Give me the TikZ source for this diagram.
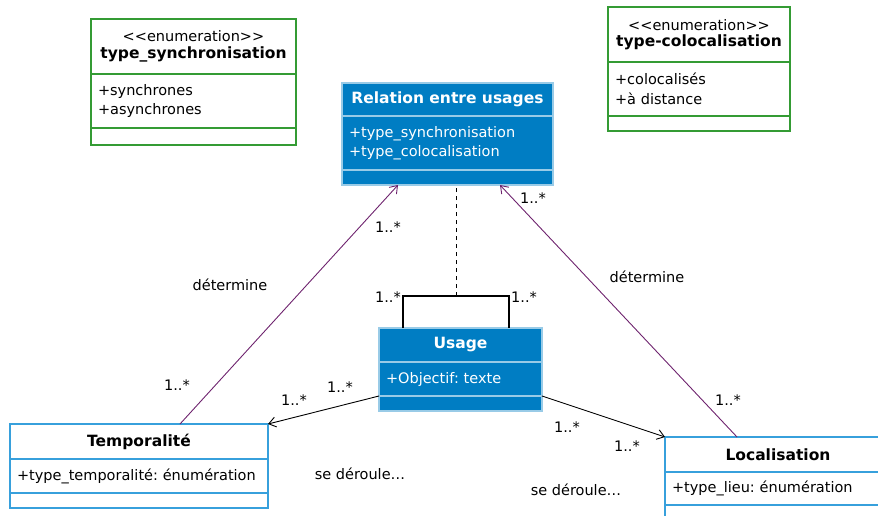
\documentclass[tikz,border=0pt]{standalone}
\usepackage{fontspec}
\setmainfont{DejaVu Sans}
\usepackage{xcolor}
\usetikzlibrary{positioning,arrows.meta}

\definecolor{umlgreen}{RGB}{52,155,52}
\definecolor{umlblue}{RGB}{0,125,195}
\definecolor{umlframe}{RGB}{55,160,220}
\definecolor{umlpurple}{RGB}{110,35,110}

\newcommand{\clsname}[1]{{\fontsize{15.5}{19}\selectfont\bfseries #1}}
\frenchspacing

\begin{document}
\begin{tikzpicture}[x=1pt, y=-1pt, >={Straight Barb[length=7pt,width=10pt]},
  every node/.style={font=\fontsize{14.5}{19.5}\selectfont},
  part/.style={rectangle, line width=1.3pt, inner sep=0pt, outer sep=0pt},
  enumpart/.style={part, draw=umlgreen, fill=white},
  bluepart/.style={part, draw=white!60!umlblue, fill=umlblue, text=white},
  whitepart/.style={part, draw=umlframe, fill=white},
  attrs/.style={align=left, inner xsep=7pt},
  assoc/.style={->, line width=0.9pt},
  mult/.style={inner sep=0pt}]

  \useasboundingbox (0,0) rectangle (878,515);
  \clip (0,0) rectangle (878,515);

  %% ─── enumerations ───────────────────────────────────────────────────────
  \node[enumpart, align=center, minimum width=205, minimum height=55,
        anchor=north west] (sync_head) at (91,19)
      {{<}{<}enumeration{>}{>}\\[-3pt]\clsname{type\_synchronisation}};
  \node[enumpart, attrs, text width=191, minimum height=54,
        below=0pt of sync_head] (sync_attr)
      {+synchrones\\+asynchrones};
  \node[enumpart, minimum width=205, minimum height=17,
        below=0pt of sync_attr] (sync_ops) {};

  \node[enumpart, align=center, minimum width=182, minimum height=55,
        anchor=north west] (coloc_head) at (608,7)
      {{<}{<}enumeration{>}{>}\\[-3pt]\clsname{type-colocalisation}};
  \node[enumpart, attrs, text width=168, minimum height=54,
        below=0pt of coloc_head] (coloc_attr)
      {+colocalisés\\+à distance};
  \node[enumpart, minimum width=182, minimum height=15,
        below=0pt of coloc_attr] (coloc_ops) {};

  %% ─── Relation entre usages ──────────────────────────────────────────────
  \node[bluepart, minimum width=211, minimum height=33,
        anchor=north west] (rel_head) at (342,83)
      {\clsname{Relation entre usages}};
  \node[bluepart, attrs, text width=197, minimum height=54,
        below=0pt of rel_head] (rel_attr)
      {+type\_synchronisation\\+type\_colocalisation};
  \node[bluepart, minimum width=211, minimum height=15,
        below=0pt of rel_attr] (rel_ops) {};

  %% ─── Usage ──────────────────────────────────────────────────────────────
  \node[bluepart, minimum width=163, minimum height=34,
        anchor=north west] (usage_head) at (379,328)
      {\clsname{Usage}};
  \node[bluepart, attrs, text width=149, minimum height=34,
        below=0pt of usage_head] (usage_attr)
      {+Objectif: texte};
  \node[bluepart, minimum width=163, minimum height=15,
        below=0pt of usage_attr] (usage_ops) {};

  %% ─── Temporalité / Localisation ─────────────────────────────────────────
  \node[whitepart, minimum width=258, minimum height=35,
        anchor=north west] (temp_head) at (10,424)
      {\clsname{Temporalité}};
  \node[whitepart, attrs, text width=244, minimum height=34,
        below=0pt of temp_head] (temp_attr)
      {+type\_temporalité: énumération};
  \node[whitepart, minimum width=258, minimum height=15,
        below=0pt of temp_attr] (temp_ops) {};

  \node[whitepart, minimum width=240, minimum height=35,
        anchor=north west] (loc_head) at (665,437)
      {\clsname{Localisation}\hspace*{14pt}};
  \node[whitepart, attrs, text width=226, minimum height=33,
        below=0pt of loc_head] (loc_attr)
      {+type\_lieu: énumération};
  \node[whitepart, minimum width=240, minimum height=15,
        below=0pt of loc_attr] (loc_ops) {};

  %% association class link
  \coordinate (br_l) at (403,296);
  \coordinate (br_r) at (509,296);
  \coordinate (br_m) at (456,296);
  \draw[line width=1.2pt] (usage_head.north -| br_l) -- (br_l) -- (br_r)
      -- (usage_head.north -| br_r);
  \draw[dash pattern=on 4pt off 4pt, line width=0.9pt] (br_m) -- (rel_ops.south -| br_m);
  \node[mult, anchor=south east] (m_brl) at (401,303) {1..*};
  \node[mult, anchor=south west] (m_brr) at (511,303) {1..*};

  %% détermine (purple)
  \coordinate (rel_in_l) at ([xshift=56pt]rel_ops.south west);
  \coordinate (rel_in_r) at ([xshift=158pt]rel_ops.south west);
  \coordinate (temp_top) at ([xshift=170pt]temp_head.north west);
  \coordinate (loc_top) at ([xshift=72pt]loc_head.north west);
  \draw[assoc, umlpurple] (temp_top) -- (rel_in_l);
  \draw[assoc, umlpurple] (loc_top) -- (rel_in_r);
  \node (det_l) at (230,285) {détermine};
  \node (det_r) at (647,277) {détermine};
  \node[mult] (m_rl) at (388,227) {1..*};
  \node[mult] (m_tl) at (177,385) {1..*};
  \node[mult] (m_rr) at (533,198) {1..*};
  \node[mult] (m_lr) at (728,400) {1..*};

  %% se déroule (black)
  \draw[assoc] (usage_attr.south west) -- (temp_head.north east);
  \draw[assoc] (usage_attr.south east) -- (loc_head.north west);
  \node[mult] (m_ul) at (340,387) {1..*};
  \node[mult] (m_tu) at (294,400) {1..*};
  \node[mult] (m_ur) at (567,427) {1..*};
  \node[mult] (m_lu) at (627,446) {1..*};
  \node (der_l) at (360,474) {se déroule…};
  \node (der_r) at (576,490) {se déroule…};

\end{tikzpicture}
\end{document}
